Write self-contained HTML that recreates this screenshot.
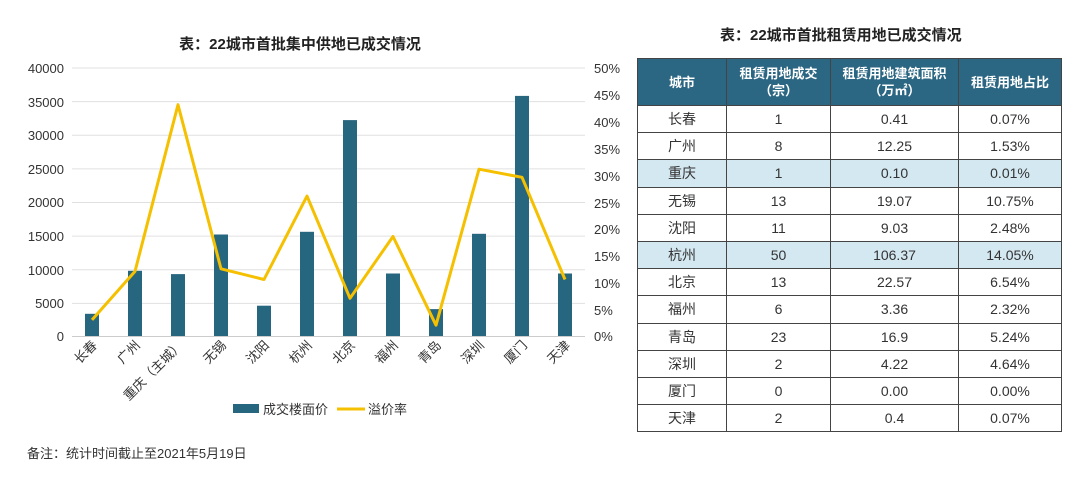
<!DOCTYPE html>
<html><head><meta charset="utf-8"><style>
body{margin:0;width:1080px;height:482px;background:#fff;overflow:hidden;font-family:"Liberation Sans","Noto Sans CJK SC",sans-serif;}
svg text{font-family:"Liberation Sans","Noto Sans CJK SC",sans-serif;}
table{position:absolute;left:637px;top:58px;width:425px;border-collapse:collapse;font-size:14px;color:#333;}
td,th{border:1px solid #444;text-align:center;padding:0;height:26.2px;}
th{background:#2b6683;color:#fff;font-weight:bold;height:46px;font-size:13px;line-height:17px;}
tr.h td{background:#d4e8f1;}
.t2{position:absolute;left:720px;top:24px;font-size:15px;font-weight:bold;color:#222;}
</style></head><body>
<svg width="636" height="482" style="position:absolute;left:0;top:0">
<text x="300" y="49" text-anchor="middle" font-size="15" font-weight="bold" fill="#222">表：22城市首批集中供地已成交情况</text>
<g stroke="#e0e0e0" stroke-width="1">
<line x1="72" x2="585" y1="68" y2="68"/><line x1="72" x2="585" y1="101.6" y2="101.6"/><line x1="72" x2="585" y1="135.2" y2="135.2"/><line x1="72" x2="585" y1="168.9" y2="168.9"/><line x1="72" x2="585" y1="202.5" y2="202.5"/><line x1="72" x2="585" y1="236.1" y2="236.1"/><line x1="72" x2="585" y1="269.8" y2="269.8"/><line x1="72" x2="585" y1="303.4" y2="303.4"/><line x1="72" x2="585" y1="336.5" y2="336.5" stroke="#ccc"/>
</g>
<g font-size="13" fill="#333" text-anchor="end">
<text x="64" y="73">40000</text><text x="64" y="107">35000</text><text x="64" y="140">30000</text><text x="64" y="174">25000</text><text x="64" y="207">20000</text><text x="64" y="241">15000</text><text x="64" y="275">10000</text><text x="64" y="308">5000</text><text x="64" y="341">0</text>
</g>
<g font-size="13" fill="#333">
<text x="594" y="73">50%</text><text x="594" y="100">45%</text><text x="594" y="127">40%</text><text x="594" y="154">35%</text><text x="594" y="181">30%</text><text x="594" y="208">25%</text><text x="594" y="234">20%</text><text x="594" y="261">15%</text><text x="594" y="288">10%</text><text x="594" y="315">5%</text><text x="594" y="341">0%</text>
</g>
<g fill="#27667f">
<rect x="85" y="313.8" width="14" height="22.2"/><rect x="128" y="270.8" width="14" height="65.2"/><rect x="171" y="274.1" width="14" height="61.9"/><rect x="214" y="234.5" width="14" height="101.5"/><rect x="257" y="305.7" width="14" height="30.3"/><rect x="300" y="231.8" width="14" height="104.2"/><rect x="343" y="120.1" width="14" height="215.9"/><rect x="386" y="273.5" width="14" height="62.5"/><rect x="429" y="309.1" width="14" height="26.9"/><rect x="472" y="233.8" width="14" height="102.2"/><rect x="515" y="95.9" width="14" height="240.1"/><rect x="558" y="273.5" width="14" height="62.5"/>
</g>
<polyline fill="none" stroke="#f5c000" stroke-width="3" stroke-linejoin="round" points="92,319.9 135,271.4 178,104.7 221,268.8 264,279.5 307,196.1 350,298.3 393,236.5 436,325.2 479,169.2 522,177.3 565,279.5"/>
<g font-size="13" fill="#333" text-anchor="end">
<text transform="translate(98,346) rotate(-45)">长春</text>
<text transform="translate(141,346) rotate(-45)">广州</text>
<text transform="translate(184,346) rotate(-45)">重庆（主城）</text>
<text transform="translate(227,346) rotate(-45)">无锡</text>
<text transform="translate(270,346) rotate(-45)">沈阳</text>
<text transform="translate(313,346) rotate(-45)">杭州</text>
<text transform="translate(356,346) rotate(-45)">北京</text>
<text transform="translate(399,346) rotate(-45)">福州</text>
<text transform="translate(442,346) rotate(-45)">青岛</text>
<text transform="translate(485,346) rotate(-45)">深圳</text>
<text transform="translate(528,346) rotate(-45)">厦门</text>
<text transform="translate(571,346) rotate(-45)">天津</text>
</g>
<rect x="233" y="404" width="26" height="9" fill="#27667f"/>
<text x="263" y="414" font-size="13" fill="#333">成交楼面价</text>
<line x1="337" x2="365" y1="409" y2="409" stroke="#f5c000" stroke-width="3"/>
<text x="368" y="414" font-size="13" fill="#333">溢价率</text>
<text x="27" y="458" font-size="13" fill="#333">备注：统计时间截止至2021年5月19日</text>
</svg>
<div class="t2">表：22城市首批租赁用地已成交情况</div>
<table>
<tr><th style="width:88px">城市</th><th style="width:103px">租赁用地成交<br>（宗）</th><th style="width:127px">租赁用地建筑面积<br>（万㎡）</th><th>租赁用地占比</th></tr>
<tr><td>长春</td><td>1</td><td>0.41</td><td>0.07%</td></tr>
<tr><td>广州</td><td>8</td><td>12.25</td><td>1.53%</td></tr>
<tr class="h"><td>重庆</td><td>1</td><td>0.10</td><td>0.01%</td></tr>
<tr><td>无锡</td><td>13</td><td>19.07</td><td>10.75%</td></tr>
<tr><td>沈阳</td><td>11</td><td>9.03</td><td>2.48%</td></tr>
<tr class="h"><td>杭州</td><td>50</td><td>106.37</td><td>14.05%</td></tr>
<tr><td>北京</td><td>13</td><td>22.57</td><td>6.54%</td></tr>
<tr><td>福州</td><td>6</td><td>3.36</td><td>2.32%</td></tr>
<tr><td>青岛</td><td>23</td><td>16.9</td><td>5.24%</td></tr>
<tr><td>深圳</td><td>2</td><td>4.22</td><td>4.64%</td></tr>
<tr><td>厦门</td><td>0</td><td>0.00</td><td>0.00%</td></tr>
<tr><td>天津</td><td>2</td><td>0.4</td><td>0.07%</td></tr>
</table>
</body></html>
